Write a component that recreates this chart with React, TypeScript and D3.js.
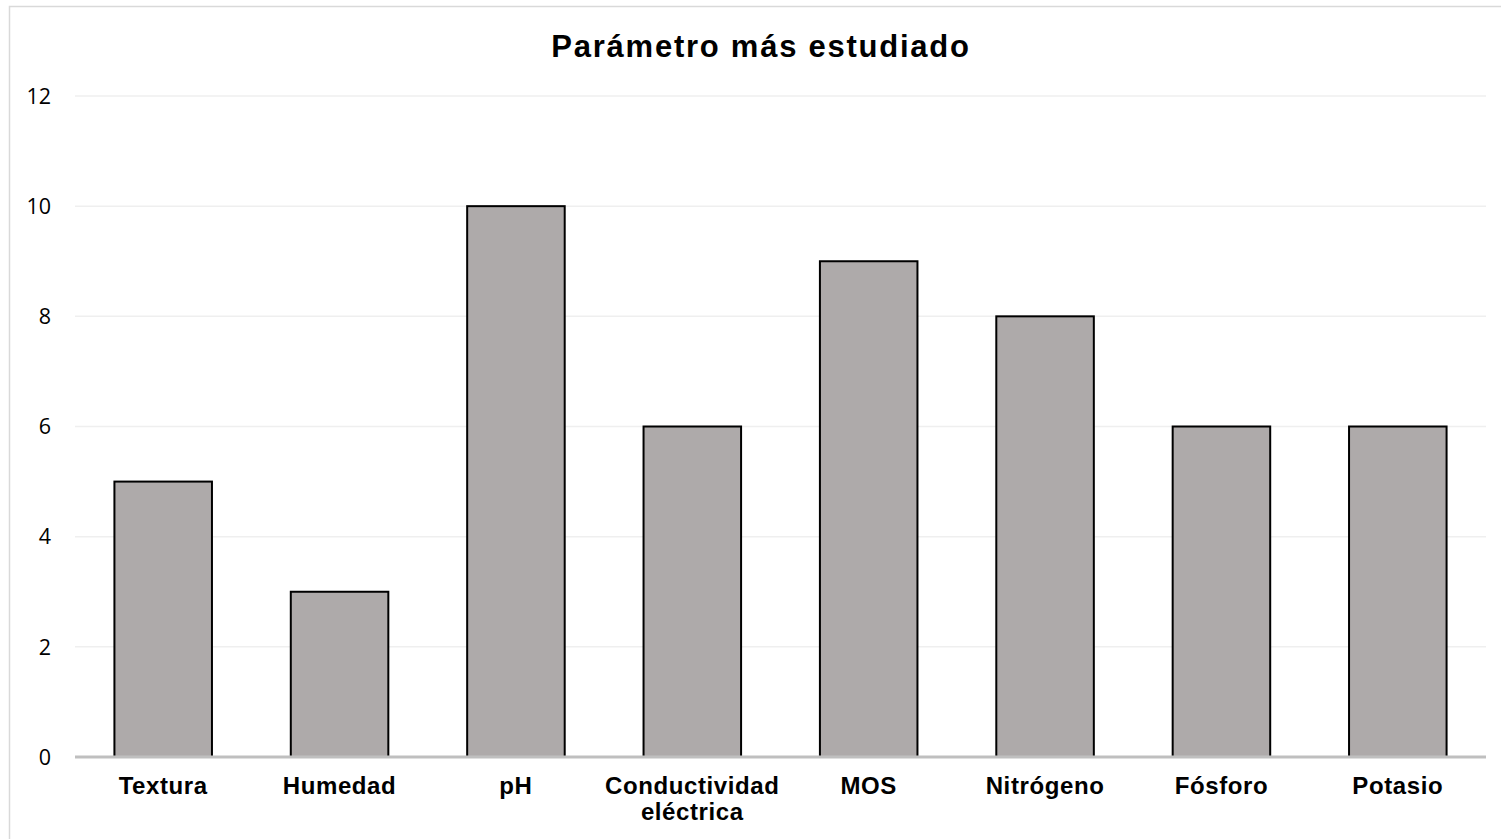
import React from "react";
import * as d3 from "d3";

const categories: string[][] = [
  ["Textura"],
  ["Humedad"],
  ["pH"],
  ["Conductividad", "eléctrica"],
  ["MOS"],
  ["Nitrógeno"],
  ["Fósforo"],
  ["Potasio"],
];
const values: number[] = [5, 3, 10, 6, 9, 8, 6, 6];
const yTicks: number[] = [0, 2, 4, 6, 8, 10, 12];
const title = "Parámetro más estudiado";

export default function App() {
  const W = 1501;
  const H = 839;
  const left = 75;
  const right = 1486;
  const top = 96;
  const bottom = 757;
  const keys = categories.map((c) => c.join(" "));
  const pi = 0.447;
  const x = d3.scaleBand<string>().domain(keys).range([left, right]).paddingInner(pi).paddingOuter(pi / 2);
  const y = d3.scaleLinear().domain([0, 12]).range([bottom, top]);

  return (
    <svg width={W} height={H} style={{ position: "absolute", left: 0, top: 0 }}>
      <rect x={0} y={0} width={W} height={H} fill="#fff" />
      <rect x={9.5} y={6.5} width={W + 20} height={H + 20} fill="none" stroke="#d9d9d9" strokeWidth={1.5} />
      <text
        x={761}
        y={57}
        textAnchor="middle"
        fontFamily="'Liberation Sans', Arial, sans-serif"
        fontWeight="bold"
        fontSize={31}
        letterSpacing={1.75}
        fill="#000"
      >
        {title}
      </text>
      {yTicks.map((t) => (
        <g key={t}>
          {t !== 0 && (
            <line x1={left} x2={right} y1={y(t)} y2={y(t)} stroke="#efefef" strokeWidth={1.5} />
          )}
          <text
            x={51}
            y={y(t)}
            dy="0.36em"
            textAnchor="end"
            fontFamily="'Open Sans', sans-serif"
            fontSize={21.5}
            fill="#000"
          >
            {t}
          </text>
        </g>
      ))}
      {values.map((v, i) => (
        <rect
          key={keys[i]}
          x={x(keys[i])!}
          y={y(v)}
          width={x.bandwidth()}
          height={y(0) - y(v)}
          fill="#aeaaaa"
          stroke="#000"
          strokeWidth={2}
        />
      ))}
      <line x1={left} x2={right} y1={y(0)} y2={y(0)} stroke="#bfbfbf" strokeWidth={3} />
      {categories.map((lines, i) => (
        <text
          key={keys[i]}
          x={x(keys[i])! + x.bandwidth() / 2}
          y={794}
          textAnchor="middle"
          fontFamily="'Liberation Sans', Arial, sans-serif"
          fontWeight="bold"
          fontSize={24}
          letterSpacing={0.6}
          fill="#000"
        >
          {lines.map((l, j) => (
            <tspan key={j} x={x(keys[i])! + x.bandwidth() / 2} dy={j === 0 ? 0 : 26}>
              {l}
            </tspan>
          ))}
        </text>
      ))}
    </svg>
  );
}
